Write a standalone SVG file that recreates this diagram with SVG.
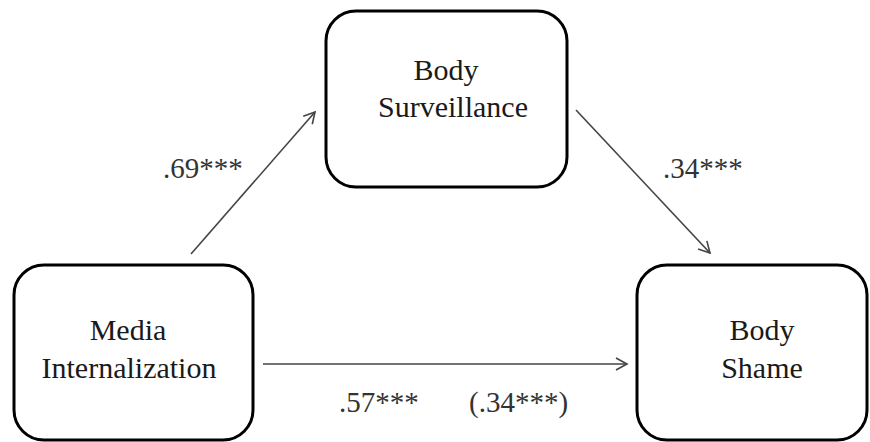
<svg xmlns="http://www.w3.org/2000/svg" width="870" height="442" viewBox="0 0 870 442">
  <style>
    .box { fill: #ffffff; stroke: #000000; stroke-width: 3; }
    .txt { font-family: "Times New Roman", Tinos, "Liberation Serif", "DejaVu Serif", "Noto Serif", FreeSerif, Georgia, serif; }
    .lbl { font-size: 30px; fill: #1a1a1a; text-anchor: middle; }
    .coef { font-size: 29px; fill: #333333; }
    .edge { stroke: #444444; stroke-width: 1.6; fill: none; marker-end: url(#arrow); }
  </style>
  <defs>
    <marker id="arrow" markerWidth="14" markerHeight="14" refX="12" refY="7" orient="auto" markerUnits="userSpaceOnUse">
      <path d="M1,1 L12,7 L1,13" fill="none" stroke="#444444" stroke-width="1.6"/>
    </marker>
  </defs>
  <rect width="870" height="442" fill="#ffffff"/>

  <g id="connectors">
    <line class="edge" x1="191" y1="254" x2="315" y2="112"/>
    <line class="edge" x1="576" y1="110" x2="710" y2="253"/>
    <line class="edge" x1="263" y1="364" x2="627" y2="364"/>
  </g>

  <g id="node-surveillance">
    <rect class="box" x="326" y="11" width="241" height="176" rx="30" ry="30"/>
    <text class="txt lbl" x="446" y="80">Body</text>
    <text class="txt lbl" x="453" y="117">Surveillance</text>
  </g>

  <g id="node-media">
    <rect class="box" x="14" y="265" width="239" height="175" rx="30" ry="30"/>
    <text class="txt lbl" x="128" y="340">Media</text>
    <text class="txt lbl" x="129" y="378">Internalization</text>
  </g>

  <g id="node-shame">
    <rect class="box" x="637" y="265" width="230" height="175" rx="30" ry="30"/>
    <text class="txt lbl" x="762" y="340">Body</text>
    <text class="txt lbl" x="762" y="378">Shame</text>
  </g>

  <g id="coefficients">
    <text class="txt coef" x="163" y="178">.69***</text>
    <text class="txt coef" x="663" y="178">.34***</text>
    <text class="txt coef" x="339" y="412">.57***</text>
    <text class="txt coef" x="469" y="412">(.34***)</text>
  </g>
</svg>
